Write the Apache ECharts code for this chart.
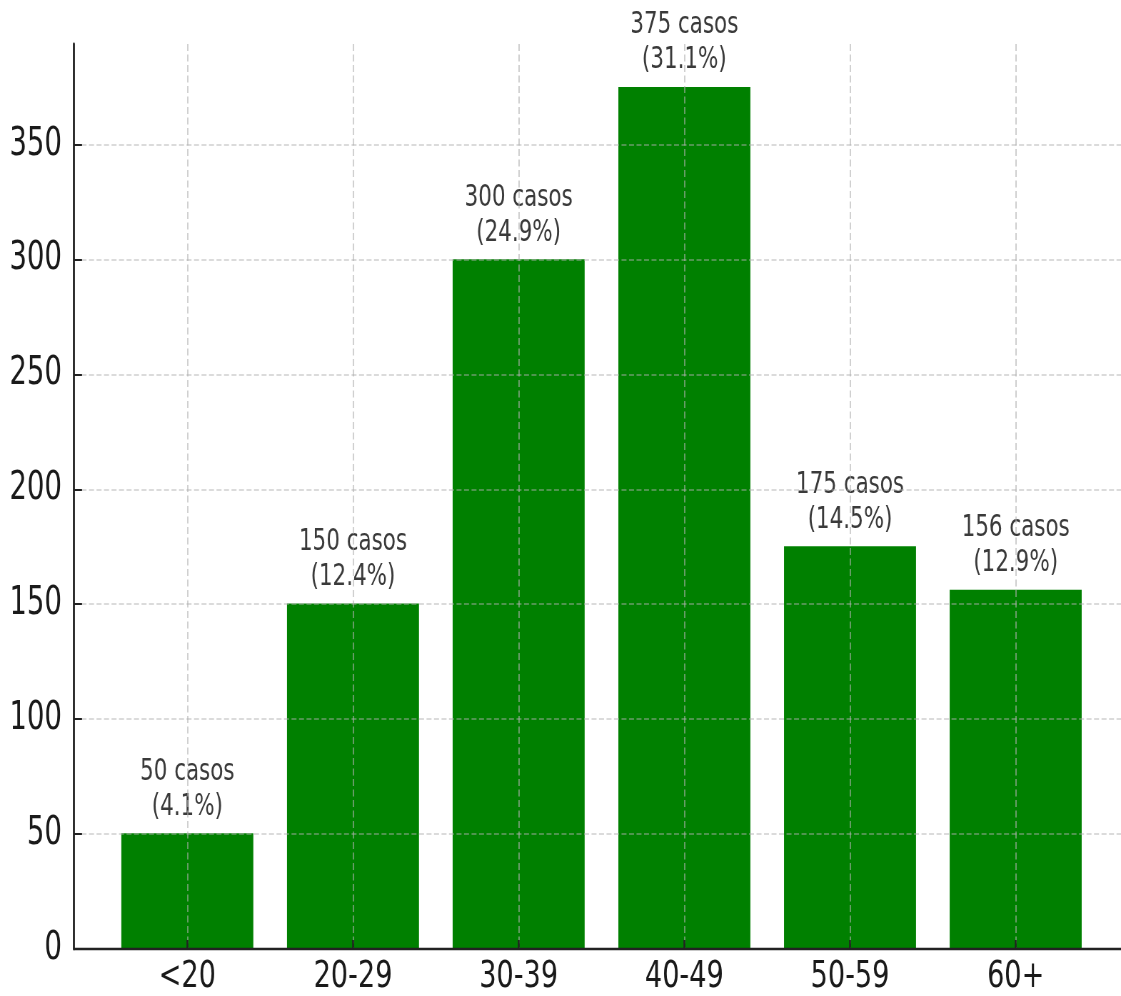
<!DOCTYPE html>
<html>
<head>
<meta charset="utf-8">
<script src="https://cdn.jsdelivr.net/npm/echarts@6/dist/echarts.min.js"></script>
<style>
html, body { margin: 0; padding: 0; background: #fff; overflow: hidden; width: 1121px; height: 996px; }
#chart { height: 996px; transform-origin: 0 0; }
</style>
</head>
<body>
<div id="chart"></div>
<script>
// Data
const categories = ['<20', '20-29', '30-39', '40-49', '50-59', '60+'];
const casos = [50, 150, 300, 375, 175, 156];
const percents = ['4.1', '12.4', '24.9', '31.1', '14.5', '12.9'];
const yMax = 393.75;
const yInterval = 50;

// The reference image is horizontally compressed; render wider and squeeze.
const S = 0.714;
const W = 1121, H = 996;
const el = document.getElementById('chart');
el.style.width = Math.round(W / S) + 'px';
el.style.transform = 'scaleX(' + S + ')';

const px = v => v / S; // final horizontal px -> pre-scale px

const gridColor = 'rgba(176,176,176,0.6)';
const font = 'DejaVu Sans';

const chart = echarts.init(el, null, { renderer: 'canvas' });
chart.setOption({
  animation: false,
  backgroundColor: '#fff',
  grid: [
    { left: px(74), right: 0, top: 44, bottom: 47 },
    { left: px(187.3), right: px(W - 1015.7), top: 44, bottom: 47 }
  ],
  xAxis: [
    {
      gridIndex: 0, type: 'value', min: 0, max: 1, z: 5,
      axisLine: { show: true, onZero: false, lineStyle: { color: '#222', width: 2.4 } },
      axisTick: { show: false }, axisLabel: { show: false }, splitLine: { show: false }
    },
    {
      gridIndex: 1, type: 'category', data: categories, boundaryGap: false, z: 5,
      axisLine: { show: false },
      axisTick: { show: true, inside: true, length: 8, lineStyle: { color: '#222', width: px(1.8) } },
      axisLabel: { show: true, interval: 0, margin: 10, fontFamily: font, fontSize: 38, lineHeight: 38, color: '#1a1a1a' },
      splitLine: { show: true, interval: 0, lineStyle: { color: gridColor, width: px(1.4), type: [7, 3.5] } }
    }
  ],
  yAxis: [
    {
      gridIndex: 0, type: 'value', min: 0, max: yMax, interval: yInterval, z: 5,
      axisLine: { show: true, lineStyle: { color: '#222', width: px(2) } },
      axisTick: { show: true, inside: true, length: px(8), lineStyle: { color: '#222', width: 2 } },
      axisLabel: {
        show: true, margin: px(12), fontFamily: font, fontSize: 38.5, color: '#1a1a1a',
        showMaxLabel: false
      },
      splitLine: { show: true, showMaxLine: false, lineStyle: { color: gridColor, width: 1.5, type: [px(5), px(2.5)] } }
    },
    {
      gridIndex: 1, type: 'value', min: 0, max: yMax, interval: yInterval, show: false
    }
  ],
  series: [
    {
      type: 'bar',
      xAxisIndex: 1, yAxisIndex: 1,
      data: casos,
      barWidth: px(132),
      clip: false,
      z: 2,
      itemStyle: { color: '#008000' },
      label: {
        show: true,
        position: 'top',
        distance: 9,
        fontFamily: font,
        fontSize: 30,
        lineHeight: 35,
        color: '#3a3a3a',
        align: 'center',
        formatter: p => p.value + ' casos\n(' + percents[p.dataIndex] + '%)'
      }
    }
  ]
});
</script>
</body>
</html>
